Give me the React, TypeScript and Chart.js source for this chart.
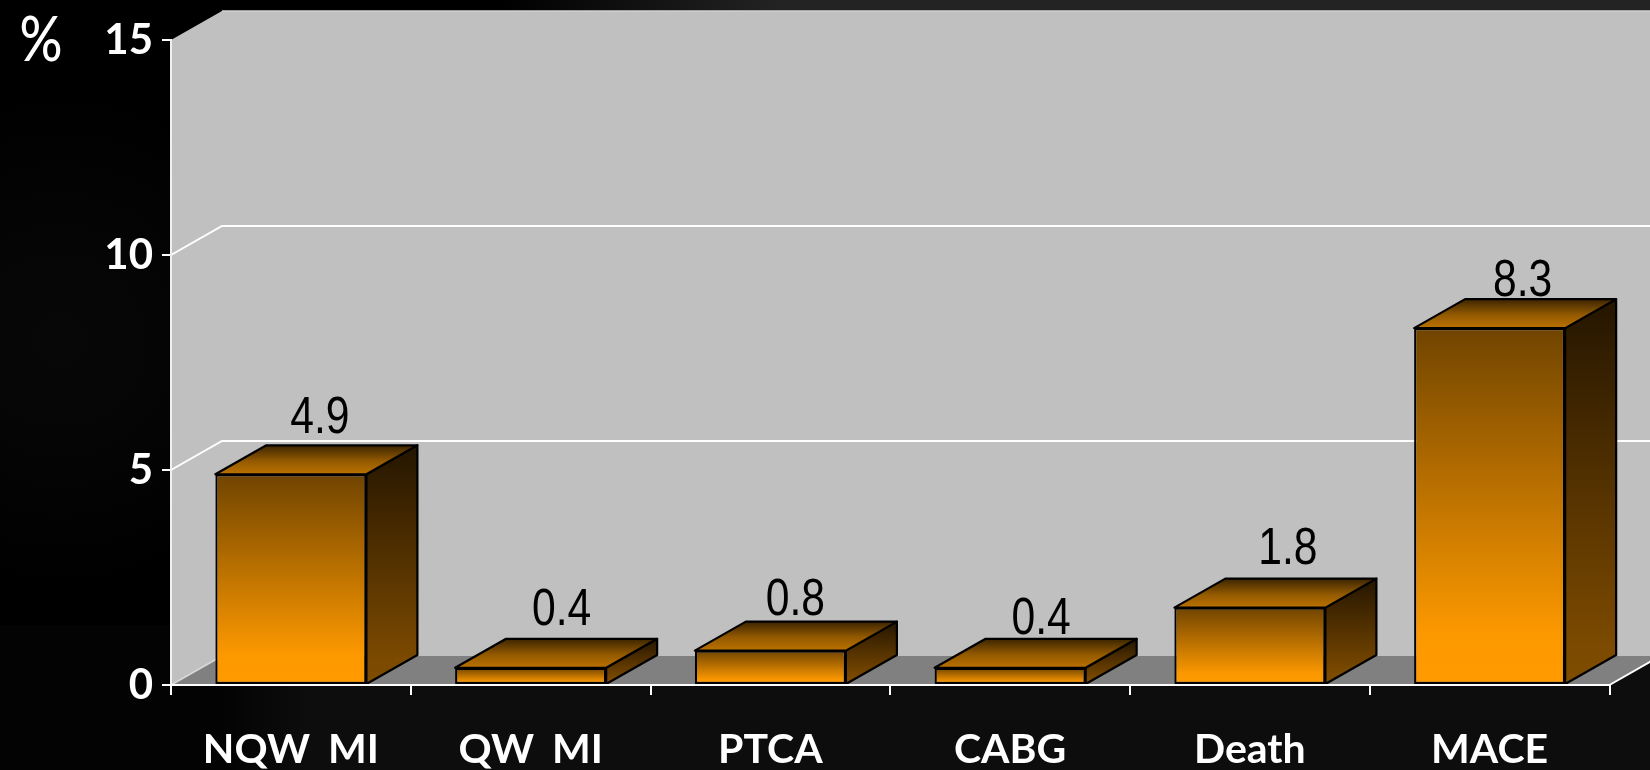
import React, { useEffect, useRef } from "react";
import { Chart, registerables } from "chart.js";

Chart.register(...registerables);

const categories = ["NQW MI", "QW MI", "PTCA", "CABG", "Death", "MACE"];
const rates = [4.9, 0.4, 0.8, 0.4, 1.8, 8.3];
const rateAxisMax = 15;
const rateAxisStep = 5;
const unitLabel = "%";

// Value labels sit by hand above each column: [sideways shift, gap above the back edge]
const labelPlacement = [
  [29, 12],
  [31, 14],
  [25, 7],
  [31, 5],
  [38, 15],
  [33, 3],
];

const WIDTH = 1650;
const HEIGHT = 770;
const AREA = { left: 171, right: 1609.5, top: 40, bottom: 685 };
const DEPTH_X = 51;
const DEPTH_Y = 29;

const UI_FONT = "Lato, 'Open Sans', sans-serif";
const VALUE_FONT = "'Liberation Sans', sans-serif";

function linear(ctx: CanvasRenderingContext2D, y0: number, y1: number, stops: [number, string][]) {
  // Scales have no pixel range until the first layout has run.
  if (!Number.isFinite(y0) || !Number.isFinite(y1)) return stops[stops.length - 1][1];
  const g = ctx.createLinearGradient(0, y0, 0, y1);
  stops.forEach(([o, c]) => g.addColorStop(o, c));
  return g;
}

function polygon(ctx: CanvasRenderingContext2D, pts: number[][]) {
  ctx.beginPath();
  pts.forEach(([x, y], i) => (i ? ctx.lineTo(x, y) : ctx.moveTo(x, y)));
  ctx.closePath();
}

// Text squeezed sideways about its own centre.
function narrowText(ctx: CanvasRenderingContext2D, text: string, x: number, y: number, squeeze: number) {
  ctx.save();
  ctx.translate(x, y);
  ctx.scale(squeeze, 1);
  ctx.fillText(text, 0, 0);
  ctx.restore();
}

// Dark slide backdrop, the side and back walls, the floor and the receding grid lines.
const roomPlugin = {
  id: "room",
  beforeDraw(chart: any) {
    const { ctx, scales } = chart;
    const { left, right, top, bottom } = chart.chartArea;
    const yScale = scales.y;
    ctx.save();
    ctx.fillStyle = "#000";
    ctx.fillRect(0, 0, WIDTH, HEIGHT);

    const sideGlow = ctx.createRadialGradient(60, 340, 20, 60, 340, 260);
    sideGlow.addColorStop(0, "#070707");
    sideGlow.addColorStop(1, "#000");
    ctx.fillStyle = sideGlow;
    ctx.fillRect(0, 80, left, 520);

    const topBand = ctx.createLinearGradient(500, 0, 780, 0);
    topBand.addColorStop(0, "#000");
    topBand.addColorStop(1, "#232323");
    ctx.fillStyle = topBand;
    ctx.fillRect(0, 0, WIDTH, top);

    const lowBand = ctx.createLinearGradient(225, 0, 310, 0);
    lowBand.addColorStop(0, "#030303");
    lowBand.addColorStop(1, "#0d0d0d");
    ctx.fillStyle = lowBand;
    ctx.fillRect(0, bottom - 60, WIDTH, HEIGHT - bottom + 60);

    const farTop = top - DEPTH_Y;
    const farBottom = bottom - DEPTH_Y;
    ctx.fillStyle = "#c0c0c0";
    polygon(ctx, [
      [left, top],
      [left + DEPTH_X, farTop],
      [right + DEPTH_X, farTop],
      [right + DEPTH_X, farBottom],
      [left + DEPTH_X, farBottom],
      [left, bottom],
    ]);
    ctx.fill();

    ctx.fillStyle = "#808080";
    polygon(ctx, [
      [left, bottom],
      [left + DEPTH_X, farBottom],
      [right + DEPTH_X, farBottom],
      [right, bottom],
    ]);
    ctx.fill();

    yScale.ticks.forEach((tick: any) => {
      const y = yScale.getPixelForValue(tick.value);
      if (tick.value === 0) return;
      if (tick.value === rateAxisMax) {
        ctx.strokeStyle = "#d2d2d2";
        ctx.lineWidth = 1.5;
        ctx.beginPath();
        ctx.moveTo(left + DEPTH_X, y - DEPTH_Y);
        ctx.lineTo(WIDTH, y - DEPTH_Y);
        ctx.stroke();
        return;
      }
      ctx.strokeStyle = "#fff";
      ctx.lineWidth = 2;
      ctx.beginPath();
      ctx.moveTo(left, y);
      ctx.lineTo(left + DEPTH_X, y - DEPTH_Y);
      ctx.lineTo(WIDTH, y - DEPTH_Y);
      ctx.stroke();
    });

    ctx.strokeStyle = "#d8d8d8";
    ctx.lineWidth = 1.5;
    ctx.beginPath();
    ctx.moveTo(left, bottom);
    ctx.lineTo(left + DEPTH_X, farBottom);
    ctx.stroke();

    ctx.strokeStyle = "#fff";
    ctx.lineWidth = 2;
    ctx.beginPath();
    ctx.moveTo(right, bottom);
    ctx.lineTo(right + DEPTH_X, farBottom);
    ctx.stroke();

    ctx.fillStyle = "#fff";
    ctx.font = `500 62px ${UI_FONT}`;
    ctx.textAlign = "center";
    ctx.textBaseline = "middle";
    narrowText(ctx, unitLabel, 41, 41, 0.86);

    ctx.restore();
    // Wider gap between words on the category labels
    (ctx as any).wordSpacing = "8px";
  },
  // Top and side faces behind each column's front face.
  beforeDatasetsDraw(chart: any) {
    const { ctx } = chart;
    const meta = chart.getDatasetMeta(0);
    ctx.save();
    ctx.strokeStyle = "#000";
    ctx.lineWidth = 2.2;
    ctx.lineJoin = "round";
    meta.data.forEach((bar: any) => {
      const { x, y, base, width } = bar.getProps(["x", "y", "base", "width"], true);
      const l = x - width / 2;
      const r = x + width / 2;
      polygon(ctx, [
        [r, y],
        [r + DEPTH_X, y - DEPTH_Y],
        [r + DEPTH_X, base - DEPTH_Y],
        [r, base],
      ]);
      ctx.fillStyle = linear(ctx, y - DEPTH_Y, base, [
        [0, "#241500"],
        [0.9, "#7c4a00"],
        [1, "#7f4d00"],
      ]);
      ctx.fill();
      ctx.stroke();

      polygon(ctx, [
        [l, y],
        [l + DEPTH_X, y - DEPTH_Y],
        [r + DEPTH_X, y - DEPTH_Y],
        [r, y],
      ]);
      ctx.fillStyle = linear(ctx, y - DEPTH_Y, y, [
        [0, "#3c2500"],
        [0.55, "#945a00"],
        [1, "#bb7200"],
      ]);
      ctx.fill();
      ctx.stroke();
    });
    ctx.restore();
  },
  afterDatasetsDraw(chart: any) {
    const { ctx } = chart;
    const meta = chart.getDatasetMeta(0);
    ctx.save();
    ctx.fillStyle = "#000";
    ctx.font = `52px ${VALUE_FONT}`;
    ctx.textAlign = "center";
    ctx.textBaseline = "alphabetic";
    meta.data.forEach((bar: any, i: number) => {
      const { x, y } = bar.getProps(["x", "y"], true);
      const [shift, gap] = labelPlacement[i];
      narrowText(ctx, rates[i].toFixed(1), x + shift, y - DEPTH_Y - gap, 0.82);
    });
    ctx.restore();
  },
};

export default function App() {
  const canvasRef = useRef<HTMLCanvasElement>(null);

  useEffect(() => {
    const chart = new Chart(canvasRef.current!, {
      type: "bar",
      data: {
        labels: categories,
        datasets: [
          {
            data: rates,
            categoryPercentage: 1,
            barPercentage: 0.63,
            borderColor: "#000",
            borderWidth: 2.2,
            borderSkipped: false,
            backgroundColor: (c: any) => {
              const yScale = c.chart.scales.y;
              return linear(
                c.chart.ctx,
                yScale.getPixelForValue(rates[c.dataIndex]),
                yScale.getPixelForValue(0),
                [
                  [0, "#704400"],
                  [0.86, "#fd9900"],
                  [1, "#ff9a00"],
                ]
              );
            },
          },
        ],
      },
      options: {
        responsive: false,
        animation: false,
        layout: {
          padding: { top: AREA.top, right: WIDTH - AREA.right, left: 0, bottom: 0 },
        },
        plugins: {
          legend: { display: false },
          title: { display: false },
          tooltip: { enabled: false },
        },
        scales: {
          x: {
            afterFit: (s: any) => {
              s.height = HEIGHT - AREA.bottom;
            },
            grid: {
              offset: true,
              drawOnChartArea: false,
              color: "#fff",
              lineWidth: 2,
              tickLength: 10,
              z: 1,
            },
            border: { color: "#fff", width: 2, z: 1 },
            ticks: {
              color: "#fff",
              padding: 30,
              maxRotation: 0,
              font: { family: UI_FONT, size: 41, weight: "bold" },
            },
          },
          y: {
            min: 0,
            max: rateAxisMax,
            afterFit: (s: any) => {
              s.width = AREA.left;
            },
            grid: {
              drawOnChartArea: false,
              color: "#fff",
              lineWidth: 2,
              tickLength: 9,
            },
            border: { color: "#f0f0f0", width: 2 },
            ticks: {
              stepSize: rateAxisStep,
              color: "#fff",
              padding: 9,
              font: { family: UI_FONT, size: 42, weight: "bold" },
            },
          },
        },
      },
      plugins: [roomPlugin],
    } as any);
    return () => chart.destroy();
  }, []);

  return (
    <div style={{ position: "fixed", left: 0, top: 0, width: WIDTH, height: HEIGHT, overflow: "hidden", background: "#000" }}>
      <canvas ref={canvasRef} width={WIDTH} height={HEIGHT} style={{ display: "block" }} />
    </div>
  );
}
